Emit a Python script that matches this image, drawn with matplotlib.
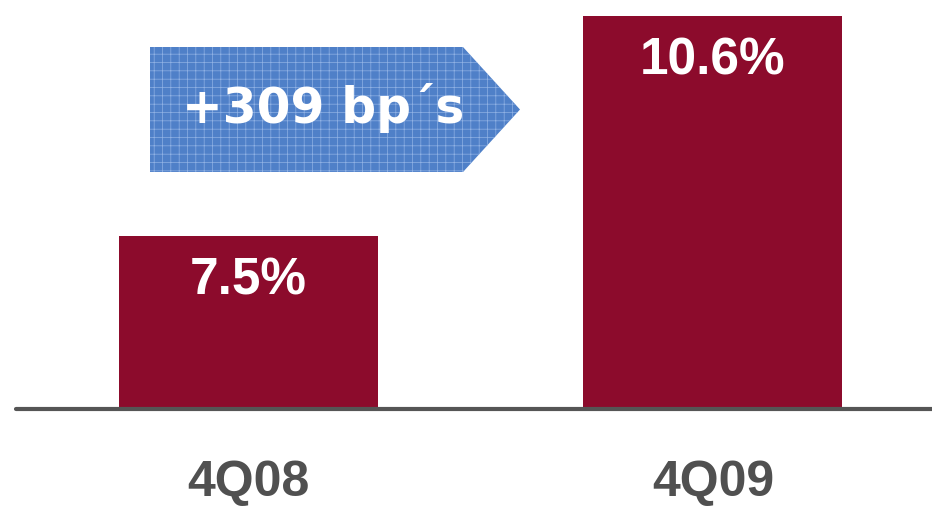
import matplotlib
matplotlib.use("Agg")
import matplotlib.pyplot as plt
from matplotlib.patches import Polygon

# Data
quarters = ["4Q08", "4Q09"]
ratios = [7.5, 10.6]
value_labels = ["7.5%", "10.6%"]
change_label = "+309 bp\u00b4s"

BAR_COLOR = "#8C0B2C"
ARROW_COLOR = "#4F80C8"
AXIS_COLOR = "#555555"

W, H = 932, 507
plt.rcParams["hatch.linewidth"] = 0.5

fig = plt.figure(figsize=(W / 100, H / 100), dpi=100)
fig.patch.set_facecolor("white")

# axes spans from the baseline to the top edge
ax = fig.add_axes([16 / W, (H - 409) / H, (W - 16) / W, 409 / H])
ax.set_facecolor("none")

x = range(len(quarters))
ax.bar(x, ratios, width=0.5576, color=BAR_COLOR, zorder=2)
ax.set_xlim(-0.5005, 1.4715)
ax.set_ylim(5.06, 10.83)

for xi, v, lab in zip(x, ratios, value_labels):
    ax.annotate(lab, (xi, v), xytext=(0, -32.4), textcoords="offset points",
                ha="center", va="center", color="white", fontsize=37,
                fontweight="bold", family=["Liberation Sans", "DejaVu Sans"], zorder=3)

# baseline
for s in ["top", "right", "left"]:
    ax.spines[s].set_visible(False)
ax.spines["bottom"].set_color(AXIS_COLOR)
ax.spines["bottom"].set_linewidth(3)
ax.spines["bottom"].set_capstyle("round")
ax.spines["bottom"].set_zorder(4)
ax.set_yticks([])
ax.set_xticks(list(x))
ax.set_xticklabels(quarters, fontsize=36, fontweight="bold", color="#505050",
                   family=["Liberation Sans", "DejaVu Sans"])
ax.tick_params(axis="x", length=0, pad=37)

# change arrow, drawn in figure pixels, with a fine grid texture
pts = [(150, 47), (463, 47), (520, 109.5), (463, 172), (150, 172)]
pts = [(px / W, 1 - py / H) for px, py in pts]
arrow = Polygon(pts, closed=True, transform=fig.transFigure, facecolor=ARROW_COLOR,
                edgecolor="#8FB1E4", linewidth=0, hatch="++", zorder=1)
fig.patches.append(arrow)
fig.text(323.5 / W, 1 - 108 / H, change_label, ha="center", va="center",
         color="white", fontsize=35, fontweight="bold",
         family=["DejaVu Sans"], zorder=5)

fig.savefig("out.png", dpi=100)
